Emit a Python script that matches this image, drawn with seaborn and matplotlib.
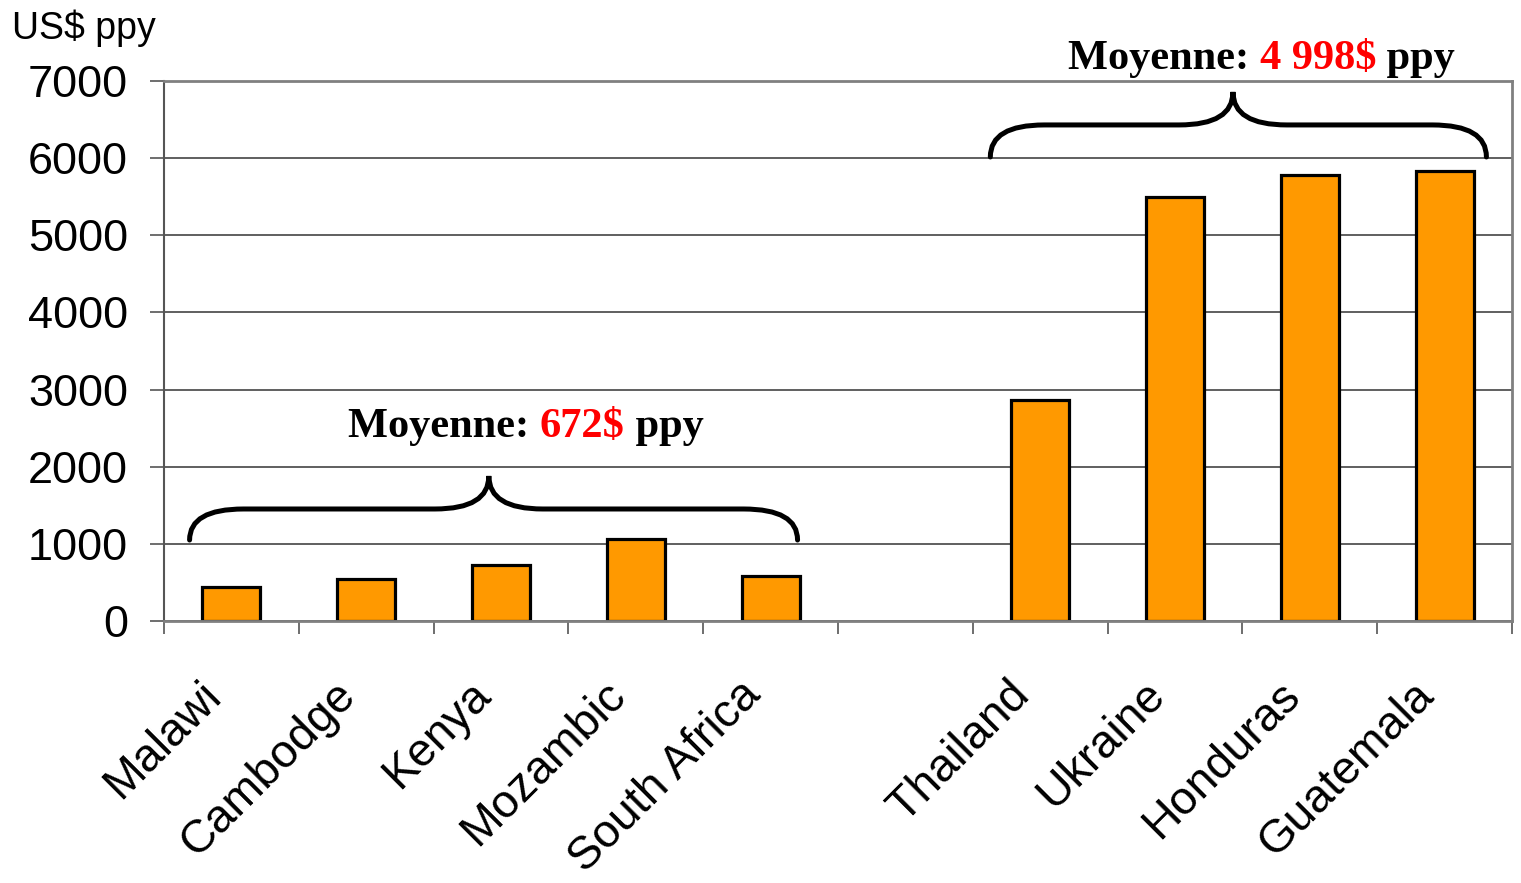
import matplotlib
matplotlib.use("Agg")
import matplotlib.pyplot as plt
import matplotlib.transforms as mtransforms
import seaborn as sns
import pandas as pd
from matplotlib.path import Path
from matplotlib.patches import PathPatch

# data
categories = ["Malawi", "Cambodge", "Kenya", "Mozambic", "South Africa",
              " ", "Thailand", "Ukraine", "Honduras", "Guatemala"]
countries = ["Malawi", "Cambodge", "Kenya", "Mozambic", "South Africa",
             "Thailand", "Ukraine", "Honduras", "Guatemala"]
cost = [440, 540, 725, 1065, 585, 2865, 5495, 5780, 5835]
avg_low = "672$"
avg_high = "4 998$"

df = pd.DataFrame({"country": countries, "cost": cost})

sns.set_style("white")
plt.rcParams["font.family"] = ["Liberation Sans", "DejaVu Sans"]
plt.rcParams["text.color"] = "black"
plt.rcParams["xtick.color"] = "black"
plt.rcParams["ytick.color"] = "black"

fig = plt.figure(figsize=(15.21, 8.83), dpi=100)
ax = fig.add_axes([0.1078, 0.2967, 0.8863, 0.6116])

sns.barplot(data=df, x="country", y="cost", order=categories, color="#FF9900",
            saturation=1, width=0.43, edgecolor="black", linewidth=2.3, ax=ax)

ax.set_ylim(0, 7000)
ax.set_xlim(-0.5, 9.5)
ax.set_yticks(range(0, 7001, 1000))
ax.yaxis.grid(True, color="#444444", linewidth=1.2)
ax.set_axisbelow(True)
ax.set_xlabel("")
ax.set_ylabel("")

for side in ["top", "right", "bottom"]:
    ax.spines[side].set_color("#808080")
    ax.spines[side].set_linewidth(2)
ax.spines["left"].set_color("#555555")
ax.spines["left"].set_linewidth(1.5)

ax.tick_params(axis="y", direction="out", length=10, width=1.2, color="#555555",
               labelcolor="black", labelsize=32.5, pad=16, left=True)
ax.set_xticks(range(len(categories)))
ax.set_xticks([i - 0.5 for i in range(len(categories) + 1)], minor=True)
ax.tick_params(axis="x", which="major", length=0, labelsize=33.5, pad=45,
               labelcolor="black")
ax.tick_params(axis="x", which="minor", direction="out", length=9, width=1.2,
               color="#555555", bottom=True)
ax.set_xticklabels(categories, rotation=45, ha="right", va="center",
                   rotation_mode="anchor")
shift = mtransforms.ScaledTranslation(-0.17, -0.05, fig.dpi_scale_trans)
for lbl in ax.get_xticklabels():
    lbl.set_transform(lbl.get_transform() + shift)

fig.text(12 / 1521, 1 - 28 / 883, "US$ ppy", fontsize=27, va="center", ha="left")


def brace(x0, x1, xm, yb, yf, yt, r):
    verts = [(x0, yb), (x0, yf), (x0 + r, yf),
             (xm - r, yf),
             (xm, yf), (xm, yt),
             (xm, yf), (xm + r, yf),
             (x1 - r, yf),
             (x1, yf), (x1, yb)]
    codes = [Path.MOVETO, Path.CURVE3, Path.CURVE3,
             Path.LINETO,
             Path.CURVE3, Path.CURVE3,
             Path.CURVE3, Path.CURVE3,
             Path.LINETO,
             Path.CURVE3, Path.CURVE3]
    p = PathPatch(Path(verts, codes), facecolor="none", edgecolor="black",
                  linewidth=3.6, clip_on=False, capstyle="round")
    ax.add_patch(p)


brace(-0.31, 4.2, 1.91, 1050, 1452, 1880, 0.4)
brace(5.63, 9.31, 7.43, 6015, 6430, 6858, 0.4)


def avg_label(x, y, value):
    tfont = dict(family=["Liberation Serif", "DejaVu Serif"], fontsize=30.5,
                 fontweight="bold")
    t1 = ax.text(x, y, "Moyenne: ", color="black", ha="left", va="bottom",
                 clip_on=False, **tfont)
    t2 = ax.annotate(value, xy=(1, 0), xycoords=t1, color="red",
                     ha="left", va="bottom", **tfont)
    ax.annotate(" ppy", xy=(1, 0), xycoords=t2, color="black",
                ha="left", va="bottom", **tfont)


avg_label(0.865, 2269, avg_low)
avg_label(6.206, 7039, avg_high)

fig.savefig("out.png", dpi=100)
